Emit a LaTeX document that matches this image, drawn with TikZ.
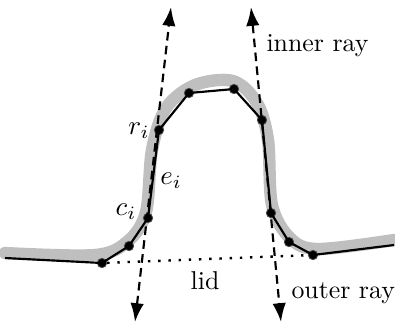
\documentclass[tikz,border=0pt]{standalone}
\usetikzlibrary{arrows.meta}
\begin{document}
\begin{tikzpicture}[x=0.372pt,y=-0.372pt,
  ray/.style={line width=0.8pt,dash pattern=on 3.2pt off 2pt,{Latex[length=7pt,width=5pt]}-{Latex[length=7pt,width=5pt]}},
  vtx/.style={circle,fill=black,draw=black!70,line width=0.3pt,inner sep=0pt,minimum size=3.5pt},
  poly/.style={line width=0.8pt},
  shadow/.style={line width=4.6pt,draw=black!25,line cap=round,line join=round},
  lbl/.style={inner sep=0pt,font=\fontsize{9.6pt}{11pt}\selectfont}]
\useasboundingbox (0,0) rectangle (395,324);
% gray smooth curve
\draw[shadow] plot[smooth,tension=0.55] coordinates {(5,253) (95,255) (128,241) (146,212) (152,150) (166,108) (195,85) (233,81) (257,103) (268,140) (272,205) (290,238) (318,249) (394,240)};
% vertices
\coordinate (s) at (5,258);
\coordinate (e) at (394,245);
\node[vtx] (p1) at (102,263) {};
\node[vtx] (p2) at (129,246) {};
\node[vtx] (ci) at (148,218) {};
\node[vtx] (ri) at (159,130) {};
\node[vtx] (p5) at (189,93) {};
\node[vtx] (p6) at (234,89) {};
\node[vtx] (p7) at (262,120) {};
\node[vtx] (p8) at (271,213) {};
\node[vtx] (p9) at (289,242) {};
\node[vtx] (p10) at (313,255) {};
\draw[poly] (s) -- (p1.center) -- (p2.center) -- (ci.center) -- (ri.center) -- (p5.center) -- (p6.center) -- (p7.center) -- (p8.center) -- (p9.center) -- (p10.center) -- (e);
% lid
\draw[line width=0.9pt,dash pattern=on 0.9pt off 2.9pt] (p1) -- (p10);
% rays
\coordinate (lb) at (135,322);
\coordinate (lt) at (171,7);
\coordinate (rt) at (251,7);
\coordinate (rb) at (281,322);
\draw[ray] (lb) -- (lt);
\draw[ray] (rt) -- (rb);
% labels
\node[lbl] (tri) at (139,131) {$r_i$};
\node[lbl] (tei) at (171,181) {$e_i$};
\node[lbl] (tci) at (126,212) {$c_i$};
\node[lbl] (tlid) at (205,281) {lid};
\node[lbl,anchor=base west] (tinner) at (266,51) {inner ray};
\node[lbl,anchor=base west] (touter) at (291,298) {outer ray};
\end{tikzpicture}
\end{document}
